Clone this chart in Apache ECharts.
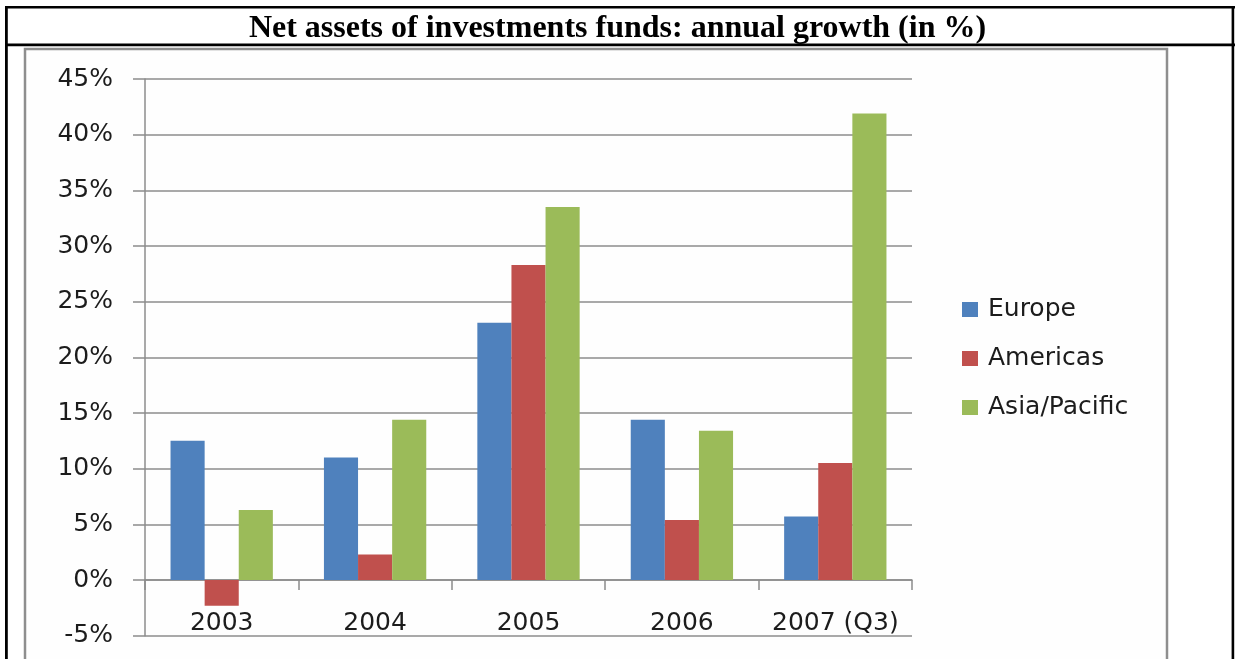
<!DOCTYPE html>
<html>
<head>
<meta charset="utf-8">
<script src="https://cdn.jsdelivr.net/npm/echarts@6/dist/echarts.min.js"></script>
<style>
  html, body { margin: 0; padding: 0; background: #ffffff; }
  #chart { width: 1235px; height: 659px; }
</style>
</head>
<body>
<div id="chart"></div>
<script>
// Annual growth of investment fund net assets, by region (percent)
const titleText = 'Net assets of investments funds: annual growth (in %)';
const years = ['2003', '2004', '2005', '2006', '2007 (Q3)'];
const europe = [12.5, 11.0, 23.1, 14.4, 5.7];
const americas = [-2.3, 2.3, 28.3, 5.4, 10.5];
const asiaPacific = [6.3, 14.4, 33.5, 13.4, 41.9];
const seriesNames = ['Europe', 'Americas', 'Asia/Pacific'];
const seriesColors = ['#4F81BD', '#C0504D', '#9BBB59'];

const gridGrey = '#8c8c8c';
const labelFont = 'DejaVu Sans';

const chart = echarts.init(document.getElementById('chart'), null, { renderer: 'canvas' });

const seriesData = [europe, americas, asiaPacific];

chart.setOption({
  animation: false,
  backgroundColor: '#ffffff',
  title: {
    text: titleText,
    left: 'center',
    top: 13,
    padding: 0,
    textStyle: {
      fontFamily: 'Liberation Serif',
      fontWeight: 'bold',
      fontSize: 32,
      color: '#000000'
    }
  },
  graphic: [
    // chart frame
    { type: 'rect', z: -1, shape: { x: 25, y: 49, width: 1142, height: 700 },
      style: { fill: '#fefefe', stroke: '#8e8e8e', lineWidth: 2.5 } },
    // table borders
    { type: 'rect', shape: { x: 5, y: 6, width: 1230, height: 2.6 }, style: { fill: '#000' } },
    { type: 'rect', shape: { x: 5, y: 43.5, width: 1230, height: 2.8 }, style: { fill: '#000' } },
    { type: 'rect', shape: { x: 5, y: 6, width: 2.8, height: 653 }, style: { fill: '#000' } },
    { type: 'rect', shape: { x: 1231.6, y: 6, width: 2.6, height: 653 }, style: { fill: '#000' } }
  ],
  legend: {
    orient: 'vertical',
    left: 962,
    top: 297,
    padding: 0,
    icon: 'rect',
    itemWidth: 16,
    itemHeight: 15,
    itemGap: 24,
    data: seriesNames,
    textStyle: {
      fontFamily: labelFont,
      fontSize: 25,
      lineHeight: 24,
      color: '#1c1c1c',
      padding: [0, 0, 0, 5]
    }
  },
  grid: {
    left: 145,
    right: 323,
    top: 79,
    bottom: 23.3,
    containLabel: false,
    outerBoundsMode: 'none'
  },
  xAxis: {
    type: 'category',
    data: years,
    axisLine: { onZero: true, lineStyle: { color: gridGrey, width: 1.5 } },
    axisTick: { show: true, interval: 0, length: 10, lineStyle: { color: gridGrey, width: 1.5 } },
    axisLabel: {
      interval: 0,
      margin: -25,
      fontFamily: labelFont,
      fontSize: 25,
      color: '#1c1c1c'
    },
    splitLine: { show: false }
  },
  yAxis: {
    type: 'value',
    min: -5,
    max: 45,
    interval: 5,
    axisLine: { show: true, lineStyle: { color: gridGrey, width: 1.5 } },
    axisTick: { show: true, length: 12, lineStyle: { color: gridGrey, width: 1.5 } },
    axisLabel: {
      margin: 32,
      formatter: '{value}%',
      fontFamily: labelFont,
      fontSize: 25,
      color: '#1c1c1c'
    },
    splitLine: { show: true, lineStyle: { color: gridGrey, width: 1.5 } }
  },
  series: seriesNames.map((name, i) => ({
    name: name,
    type: 'bar',
    data: seriesData[i],
    barGap: '0%',
    barCategoryGap: '33.3%',
    itemStyle: { color: seriesColors[i] }
  }))
});
</script>
</body>
</html>
